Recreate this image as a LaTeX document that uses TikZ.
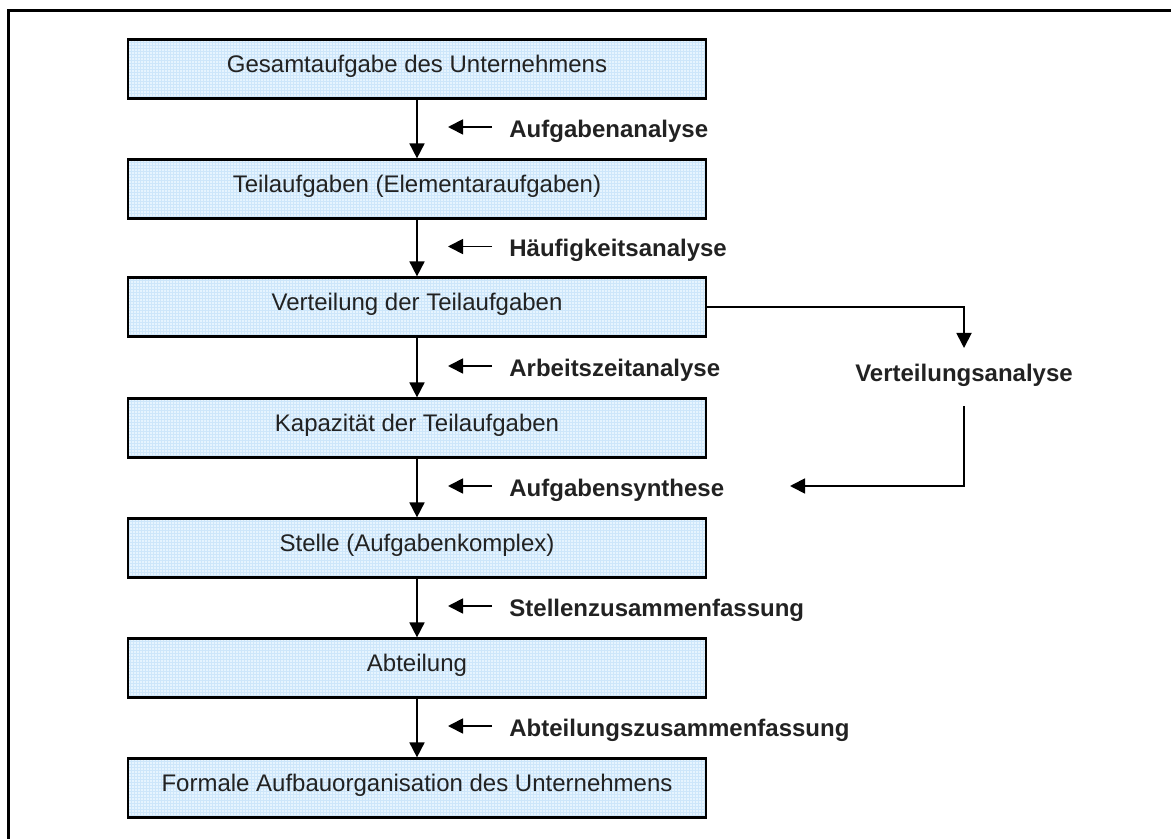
\documentclass[tikz,border=0pt]{standalone}
\usepackage{fontspec}
\setmainfont{Liberation Sans}
\usetikzlibrary{arrows.meta}
\definecolor{boxfill}{RGB}{230,244,254}
\definecolor{boxgrid}{RGB}{205,230,250}
\definecolor{ink}{RGB}{34,34,34}
\tikzset{
  stagebox/.style={draw=black, line width=1.1pt, fill=boxfill,
    minimum width=289pt, minimum height=29.5pt, inner sep=0pt,
    text height=8.6pt, text depth=5.5pt,
    font=\fontsize{12}{14}\selectfont, text=ink,
    path picture={\draw[boxgrid, line width=0.12pt, step=1.5pt]
      (path picture bounding box.south west) grid (path picture bounding box.north east);}},
  steplabel/.style={anchor=base west, inner sep=0pt,
    font=\fontsize{12}{14}\selectfont\bfseries, text=ink},
  flow/.style={line width=0.9pt, -{Triangle[length=7.5pt,width=7.5pt]}},
}
\begin{document}
\begin{tikzpicture}[x=0.5pt,y=-0.5pt]
\useasboundingbox (0,0) rectangle (1171,839);
\clip (0,0) rectangle (1171,839);
% outer frame
\draw[line width=1.1pt] (8.5,10.5) rectangle (1200,870);

% stages
\node[stagebox] (b1) at (417,69)  {Gesamtaufgabe des Unternehmens};
\node[stagebox] (b2) at (417,189) {Teilaufgaben (Elementaraufgaben)};
\node[stagebox] (b3) at (417,307) {Verteilung der Teilaufgaben};
\node[stagebox] (b4) at (417,428) {Kapazität der Teilaufgaben};
\node[stagebox] (b5) at (417,548) {Stelle (Aufgabenkomplex)};
\node[stagebox] (b6) at (417,668) {Abteilung};
\node[stagebox] (b7) at (417,788) {Formale Aufbauorganisation des Unternehmens};

% vertical flow
\draw[flow] (b1) -- (b2);
\draw[flow] (b2) -- (b3);
\draw[flow] (b3) -- (b4);
\draw[flow] (b4) -- (b5);
\draw[flow] (b5) -- (b6);
\draw[flow] (b6) -- (b7);

% step labels with their small arrows
\node[steplabel] (l1) at (509,137.5) {Aufgabenanalyse};
\node[steplabel] (l2) at (509,257)   {Häufigkeitsanalyse};
\node[steplabel] (l3) at (509,376.5) {Arbeitszeitanalyse};
\node[steplabel] (l4) at (509,496.5) {Aufgabensynthese};
\node[steplabel] (l5) at (509,616.5) {Stellenzusammenfassung};
\node[steplabel] (l6) at (509,736.5) {Abteilungszusammenfassung};
\foreach \l in {l1,l2,l3,l4,l5,l6}
  \draw[flow] ([shift={(-17,-10.5)}]\l.base west) -- ++(-44,0);

% side branch: distribution analysis
\node[steplabel, anchor=base] (va) at (964,381) {Verteilungsanalyse};
\coordinate (vaTop) at (964,348);
\coordinate (vaBot) at (964,406);
\coordinate (synTip) at (790,486);
\draw[flow] (b3.east) -| (vaTop);
\draw[flow] (vaBot) |- (synTip);
\end{tikzpicture}
\end{document}
